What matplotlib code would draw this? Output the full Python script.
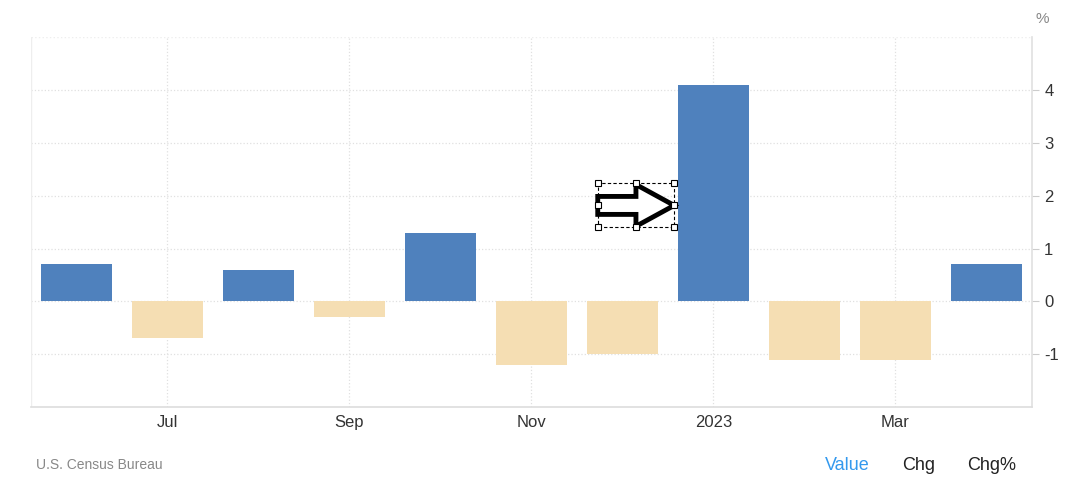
import matplotlib
matplotlib.use("Agg")
import matplotlib.pyplot as plt
from matplotlib.patches import Polygon, Rectangle

plt.rcParams['font.family'] = ['Liberation Sans', 'DejaVu Sans']

# variacion mensual (%), jun 2022 - abr 2023
meses = ['Jun', 'Jul', 'Aug', 'Sep', 'Oct', 'Nov', 'Dec', '2023', 'Feb', 'Mar', 'Apr']
valores = [0.7, -0.7, 0.6, -0.3, 1.3, -1.2, -1.0, 4.1, -1.1, -1.1, 0.7]
ticks_x = ['Jul', 'Sep', 'Nov', '2023', 'Mar']
ticks_y = [-1, 0, 1, 2, 3, 4]

azul = '#4f81bd'
arena = '#f5deb3'

fig = plt.figure(figsize=(10.68, 4.87), dpi=100)
ax = fig.add_axes([0.029, 0.164, 0.937, 0.760])

x = list(range(len(meses)))
colores = [azul if v >= 0 else arena for v in valores]
ax.bar(x, valores, width=0.78, color=colores, zorder=3)

ax.set_xlim(-0.5, 10.5)
ax.set_ylim(-2, 5)

pos_x = [meses.index(m) for m in ticks_x]
ax.set_xticks(pos_x)
ax.set_xticklabels(ticks_x, fontsize=12, color='#333333')
ax.set_yticks(ticks_y)
ax.set_yticklabels([str(t) for t in ticks_y], fontsize=12, color='#333333')
ax.yaxis.tick_right()
ax.tick_params(axis='y', length=5, color='#cccccc', pad=4)
ax.tick_params(axis='x', length=0, pad=6)

ax.grid(True, color='#e0e0e0', linestyle=':', linewidth=0.9, zorder=0)
for s in ['top', 'left']:
    ax.spines[s].set_visible(False)
ax.spines['right'].set_color('#e0e0e0')
ax.spines['bottom'].set_color('#dddddd')
ax.spines['right'].set_linewidth(1.2)
ax.spines['bottom'].set_linewidth(1.2)
ax.axvline(-0.5, color='#eeeeee', lw=1)
ax.axhline(5, color='#eeeeee', lw=1, ls=':')

# flecha con caja de seleccion
x0, x1 = 5.73, 6.57
y0, y1 = 1.40, 2.23
xm = 6.15
yc = (y0 + y1) / 2
flecha = [(x0, yc + 0.17), (xm, yc + 0.17), (xm, y1 - 0.02), (x1, yc),
          (xm, y0 + 0.02), (xm, yc - 0.17), (x0, yc - 0.17)]
ax.add_patch(Polygon(flecha, closed=True, facecolor='white', edgecolor='black',
                     lw=3.5, joinstyle='miter', zorder=5))
ax.add_patch(Rectangle((x0, y0), x1 - x0, y1 - y0, fill=False, edgecolor='black',
                       lw=0.8, ls=(0, (3, 2)), zorder=6))
hx = [x0, (x0 + x1) / 2, x1, x0, x1, x0, (x0 + x1) / 2, x1]
hy = [y1, y1, y1, yc, yc, y0, y0, y0]
ax.plot(hx, hy, 's', ms=4, mfc='white', mec='black', mew=0.8, zorder=7)

fig.text(0.976, 0.975, '%', fontsize=11, color='#888888', ha='center', va='top')
fig.text(0.034, 0.045, 'U.S. Census Bureau', fontsize=10, color='#888888', va='center')
fig.text(0.772, 0.045, 'Value', fontsize=13, color='#3399ee', va='center')
fig.text(0.845, 0.045, 'Chg', fontsize=13, color='#222222', va='center')
fig.text(0.906, 0.045, 'Chg%', fontsize=13, color='#222222', va='center')

fig.savefig('out.png', dpi=100)
